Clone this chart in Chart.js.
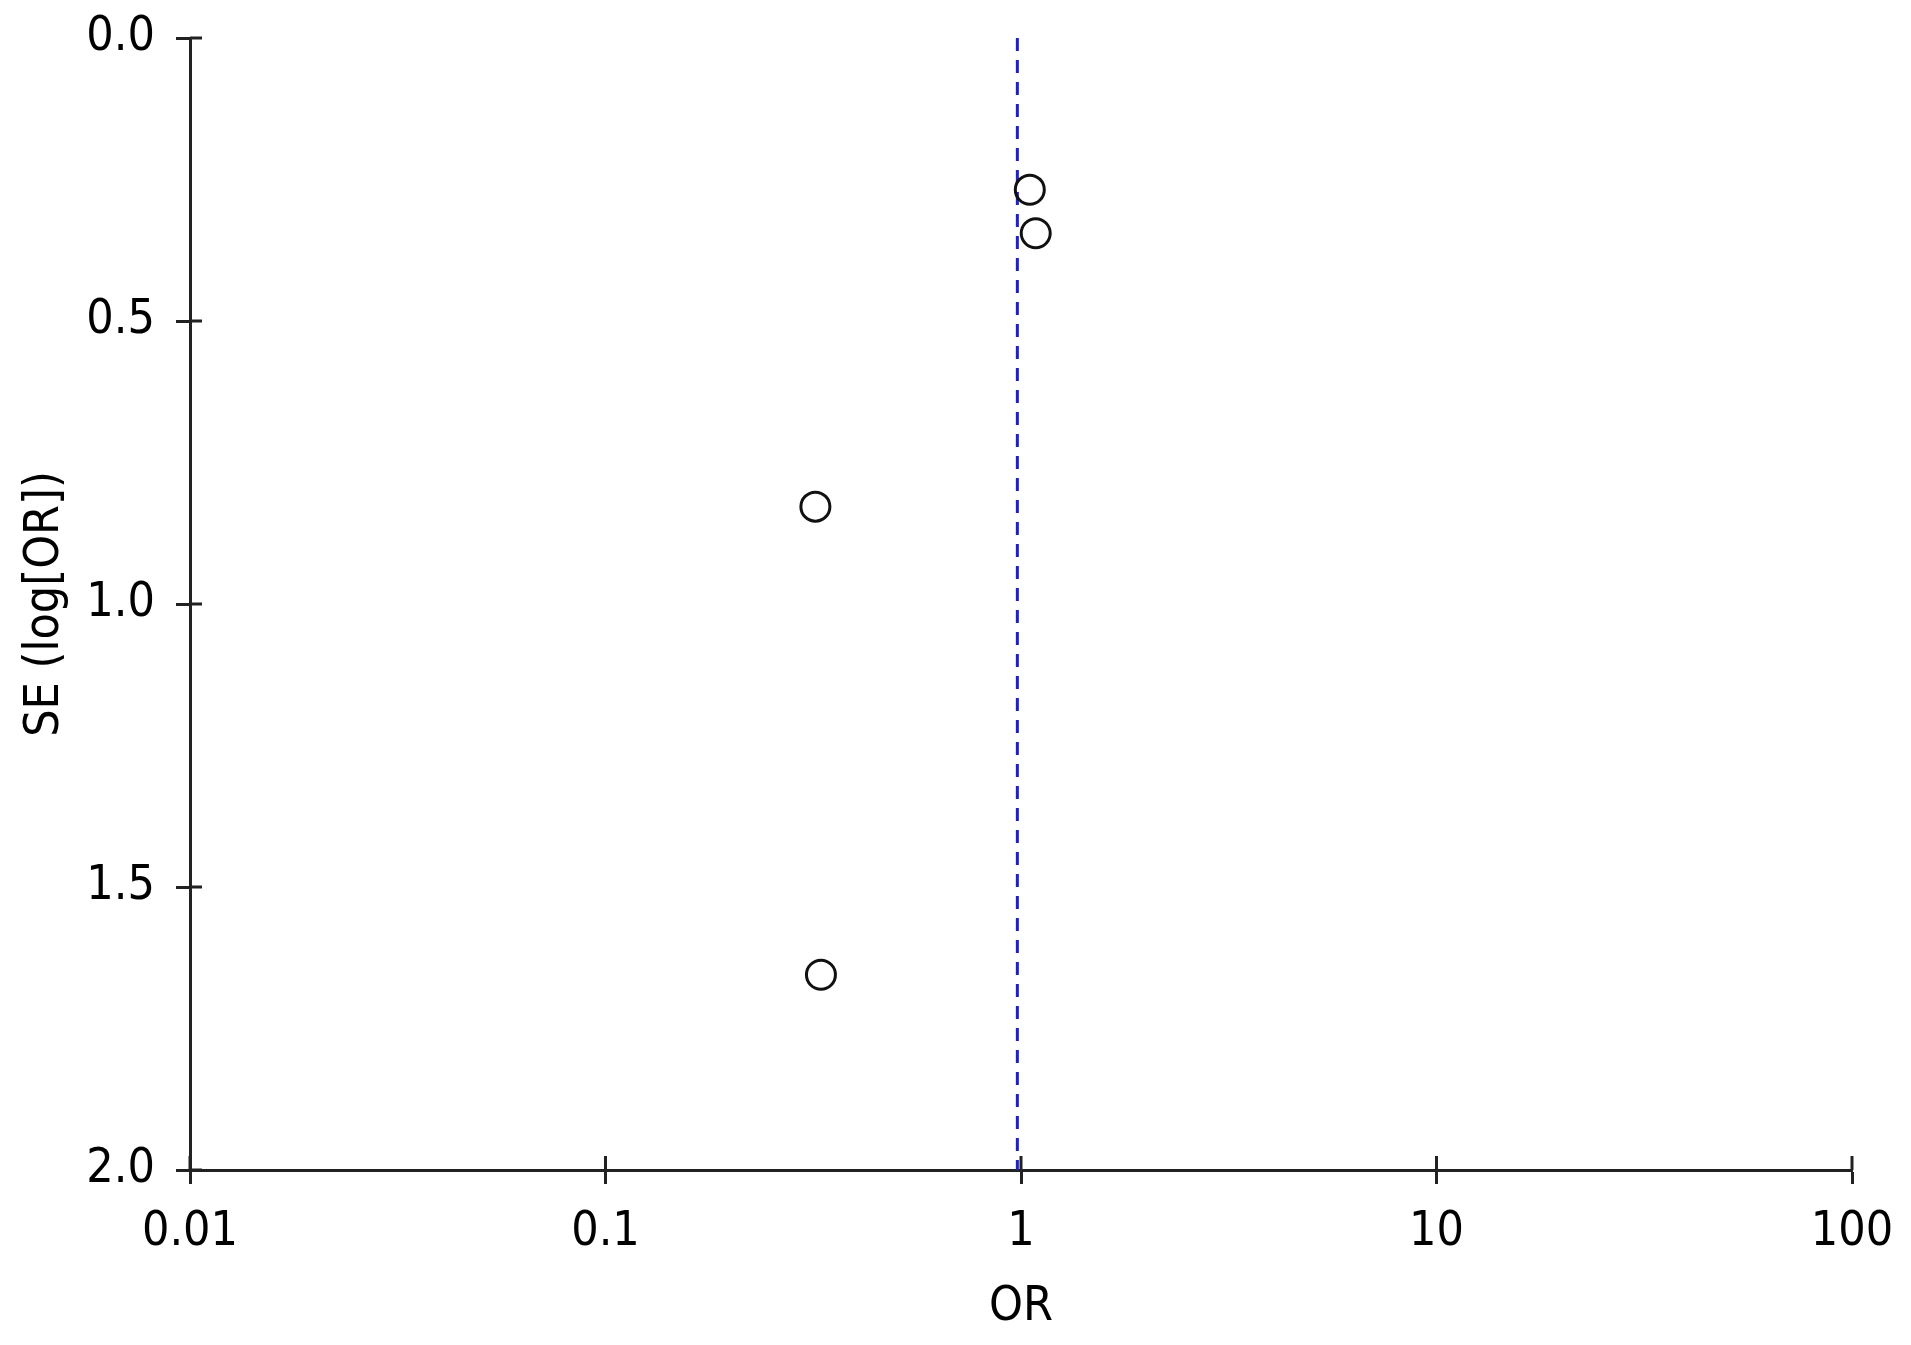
<!DOCTYPE html>
<html>
<head>
<meta charset="utf-8">
<title>Funnel plot</title>
<script src="https://cdn.jsdelivr.net/npm/chart.js@4.4.1/dist/chart.umd.min.js"></script>
<style>
    html, body { margin: 0; padding: 0; background: #ffffff; }
    #wrap { width: 1911px; height: 1345px; position: relative; }
</style>
</head>
<body>
<div id="wrap"><canvas id="funnel"></canvas></div>
<script>
// study estimates
const orValues = [1.05, 1.085, 0.32, 0.33];
const seValues = [0.268, 0.345, 0.828, 1.655];
const pooledOR = 0.98;

const xTickValues = [0.01, 0.1, 1, 10, 100];
const xTickLabels = ['0.01', '0.1', '1', '10', '100'];
const yTickValues = [0, 0.5, 1, 1.5, 2];

const axisColor = '#222222';
const fontFamily = '"DejaVu Sans Condensed", "DejaVu Sans", sans-serif';

// chart.js only draws ticks outward, these ones cross the axis line
const innerTicks = {
    id: 'innerTicks',
    afterDatasetsDraw(chart) {
        const ctx = chart.ctx;
        const x = chart.scales.x;
        const y = chart.scales.y;
        ctx.save();
        ctx.strokeStyle = axisColor;
        ctx.lineWidth = 3;
        ctx.beginPath();
        xTickValues.forEach(v => {
            const px = x.getPixelForValue(v);
            ctx.moveTo(px, y.bottom);
            ctx.lineTo(px, y.bottom - 14);
        });
        yTickValues.forEach(v => {
            const py = y.getPixelForValue(v);
            ctx.moveTo(x.left, py);
            ctx.lineTo(x.left + 12, py);
        });
        ctx.stroke();
        ctx.restore();
    }
};

document.addEventListener('DOMContentLoaded', function() {
    const canvas = document.getElementById('funnel');
    const points = orValues.map((v, i) => ({ x: v, y: seValues[i] }));

    new Chart(canvas, {
        type: 'scatter',
        data: {
            datasets: [
                {
                    data: points,
                    pointRadius: 14.5,
                    pointHoverRadius: 14.5,
                    pointBorderWidth: 3,
                    pointBorderColor: '#111111',
                    pointBackgroundColor: 'rgba(0,0,0,0)',
                    showLine: false,
                    order: 1
                },
                {
                    type: 'line',
                    data: [{ x: pooledOR, y: 0 }, { x: pooledOR, y: 2 }],
                    borderColor: '#2020c8',
                    borderWidth: 3,
                    borderDash: [13, 9],
                    pointRadius: 0,
                    fill: false,
                    order: 2
                }
            ]
        },
        options: {
            responsive: true,
            maintainAspectRatio: false,
            animation: false,
            layout: {
                padding: { left: 0, right: 59, top: 38, bottom: 0 }
            },
            plugins: {
                legend: { display: false },
                tooltip: { enabled: false }
            },
            scales: {
                x: {
                    type: 'logarithmic',
                    min: 0.01,
                    max: 100,
                    afterBuildTicks: function(scale) {
                        scale.ticks = xTickValues.map(v => ({ value: v }));
                    },
                    afterFit: function(scale) {
                        scale.height = 175;
                        scale.paddingLeft = 0;
                        scale.paddingRight = 0;
                    },
                    ticks: {
                        autoSkip: false,
                        maxRotation: 0,
                        padding: 20,
                        color: '#000000',
                        font: { family: fontFamily, size: 48 },
                        callback: function(value) {
                            const i = xTickValues.indexOf(value);
                            return i >= 0 ? xTickLabels[i] : '';
                        }
                    },
                    grid: {
                        drawOnChartArea: false,
                        drawTicks: true,
                        tickLength: 14,
                        tickWidth: 3,
                        tickColor: axisColor
                    },
                    border: { color: axisColor, width: 3 },
                    title: {
                        display: true,
                        text: 'OR',
                        color: '#000000',
                        font: { family: fontFamily, size: 48 },
                        padding: { top: 0, bottom: 9 }
                    }
                },
                y: {
                    reverse: true,
                    min: 0,
                    max: 2,
                    afterBuildTicks: function(scale) {
                        scale.ticks = yTickValues.map(v => ({ value: v }));
                    },
                    afterFit: function(scale) {
                        scale.width = 190;
                        scale.paddingTop = 0;
                        scale.paddingBottom = 0;
                    },
                    ticks: {
                        padding: 21,
                        color: '#000000',
                        font: { family: fontFamily, size: 48 },
                        callback: function(value) {
                            return Number(value).toFixed(1);
                        }
                    },
                    grid: {
                        drawOnChartArea: false,
                        drawTicks: true,
                        tickLength: 14,
                        tickWidth: 3,
                        tickColor: axisColor
                    },
                    border: { color: axisColor, width: 3 },
                    title: {
                        display: true,
                        text: 'SE (log[OR])',
                        color: '#000000',
                        font: { family: fontFamily, size: 48 },
                        padding: { top: 17, bottom: 0 }
                    }
                }
            }
        },
        plugins: [innerTicks]
    });
});
</script>
</body>
</html>
